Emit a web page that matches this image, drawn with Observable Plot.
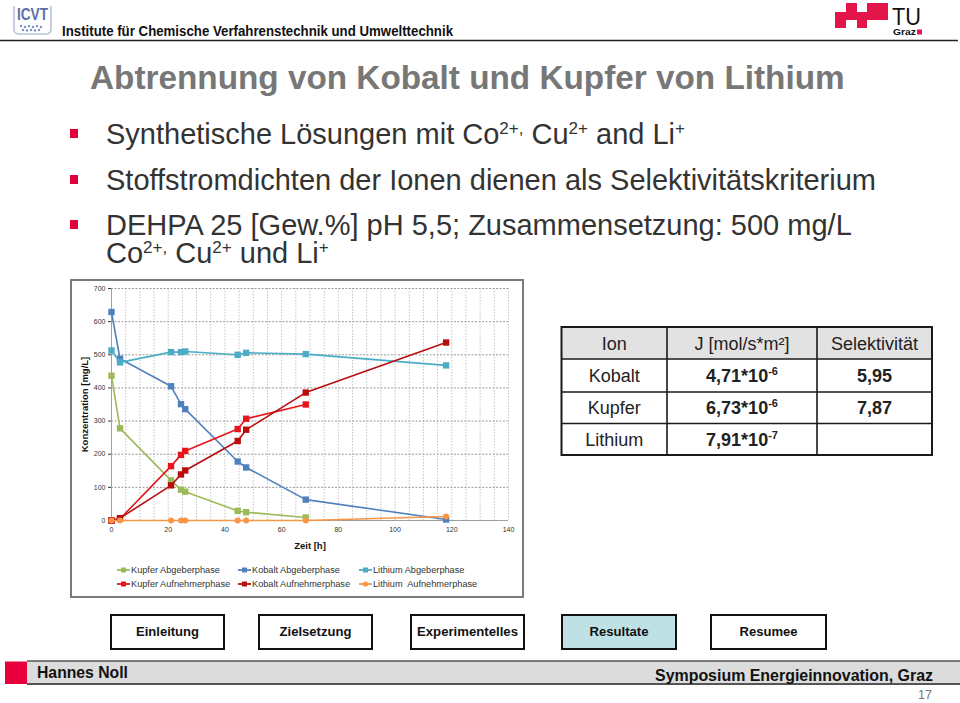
<!DOCTYPE html>
<html><head><meta charset="utf-8">
<script src="https://cdn.jsdelivr.net/npm/d3@7"></script>
<script src="https://cdn.jsdelivr.net/npm/@observablehq/plot@0.6"></script>
<style>
html,body{margin:0;padding:0;background:#fff;}
#slide{position:relative;width:960px;height:703px;overflow:hidden;font-family:"Liberation Sans",Arial,sans-serif;}
#deco{position:absolute;left:0;top:0;}
#chart{position:absolute;left:72px;top:281px;}
#legend{position:absolute;left:72px;top:560px;}
text{white-space:pre;}
</style></head>
<body><div id="slide">
<svg id="deco" width="960" height="703" font-family="Liberation Sans, Arial, sans-serif">
  <!-- ICVT logo -->
  <path d="M14,6 L14,30 Q14,34 20,34 L46,34 Q51,34 51,29 L51,6" fill="none" stroke="#b9c4da" stroke-width="1.6"/>
  <text x="17" y="20" font-size="16" font-weight="bold" fill="#5b70a6" textLength="31" lengthAdjust="spacingAndGlyphs">ICVT</text>
  <g fill="#7d92c2"><circle cx="21" cy="26" r="1.2"/><circle cx="25" cy="27" r="1.2"/><circle cx="29" cy="26" r="1.2"/><circle cx="33" cy="27" r="1.2"/><circle cx="37" cy="26" r="1.2"/><circle cx="41" cy="27" r="1.2"/><circle cx="23" cy="30" r="1.2"/><circle cx="27" cy="30.5" r="1.2"/><circle cx="31" cy="30" r="1.2"/><circle cx="35" cy="30.5" r="1.2"/><circle cx="39" cy="30" r="1.2"/></g>
  <text x="62" y="36" font-size="14" font-weight="bold" fill="#111" textLength="391" lengthAdjust="spacingAndGlyphs">Institute für Chemische Verfahrenstechnik und Umwelttechnik</text>
  <line x1="0" x2="958" y1="40.5" y2="40.5" stroke="#222" stroke-width="1.5"/>
  <!-- TU Graz logo -->
  <g fill="#e4154b">
    <rect x="846" y="3" width="11" height="9"/>
    <rect x="867" y="3" width="21" height="9"/>
    <rect x="835" y="12" width="53" height="8"/>
    <rect x="835" y="20" width="11" height="8"/>
    <rect x="857" y="20" width="10" height="8"/>
  </g>
  <text x="892" y="24.5" font-size="24" fill="#111" textLength="29" lengthAdjust="spacingAndGlyphs">TU</text>
  <text x="893" y="34.5" font-size="8.5" font-weight="bold" fill="#111" textLength="23" lengthAdjust="spacingAndGlyphs">Graz</text>
  <rect x="917" y="29.5" width="5" height="5" fill="#e4154b"/>
  <!-- title -->
  <text x="90" y="89" font-size="33.3" font-weight="bold" fill="#777">Abtrennung von Kobalt und Kupfer von Lithium</text>
  <!-- bullets -->
  <g fill="#e2003b">
    <rect x="70" y="129" width="8" height="9"/>
    <rect x="70" y="175" width="8" height="9"/>
    <rect x="70" y="220" width="8" height="9"/>
  </g>
  <g font-size="29" fill="#333">
    <text x="106" y="144">Synthetische Lösungen mit Co<tspan font-size="17" dy="-10">2+,</tspan><tspan dy="10"> Cu</tspan><tspan font-size="17" dy="-10">2+</tspan><tspan dy="10"> and Li</tspan><tspan font-size="17" dy="-10">+</tspan></text>
    <text x="106" y="190">Stoffstromdichten der Ionen dienen als Selektivitätskriterium</text>
    <text x="106" y="235">DEHPA 25 [Gew.%] pH 5,5; Zusammensetzung: 500 mg/L</text>
    <text x="106" y="263">Co<tspan font-size="17" dy="-10">2+,</tspan><tspan dy="10"> Cu</tspan><tspan font-size="17" dy="-10">2+</tspan><tspan dy="10"> und Li</tspan><tspan font-size="17" dy="-10">+</tspan></text>
  </g>
  <!-- chart frame -->
  <rect x="71" y="280" width="452" height="317" fill="none" stroke="#7a7a7a" stroke-width="2"/>
  <!-- table -->
  <g id="table"></g>
  <!-- nav buttons -->
  <g id="nav"></g>
  <!-- footer -->
  <rect x="27" y="661" width="933" height="22.5" fill="#dcdcdc"/>
  <line x1="27" x2="960" y1="661" y2="661" stroke="#555" stroke-width="1.5"/>
  <line x1="27" x2="960" y1="684" y2="684" stroke="#555" stroke-width="2"/>
  <rect x="5" y="661.5" width="22" height="22.5" fill="#e8003d"/>
  <text x="37" y="678" font-size="16" font-weight="bold" fill="#111" textLength="91" lengthAdjust="spacingAndGlyphs">Hannes Noll</text>
  <text x="933" y="681" font-size="16" font-weight="bold" fill="#111" text-anchor="end" textLength="278" lengthAdjust="spacingAndGlyphs">Symposium Energieinnovation, Graz</text>
  <text x="932" y="699" font-size="12.5" fill="#777" text-anchor="end">17</text>
</svg>
<div id="chart"></div>
<svg id="legend" width="450" height="34" font-family="Liberation Sans, Arial, sans-serif"></svg>
</div>
<script>
// ---- chart data ----
const zeit = [0, 3, 21, 24.5, 26, 44.5, 47.5, 68.5, 118];
const seriesNames = ["Kupfer Abgeberphase", "Kobalt Abgeberphase", "Lithium Abgeberphase",
                     "Kupfer Aufnehmerphase", "Kobalt Aufnehmerphase", "Lithium  Aufnehmerphase"];
const seriesColors = ["#9bbb59", "#4f81bd", "#4bacc6", "#e8161c", "#b80d0d", "#f79646"];
const kupferAbgeber   = [437, 278, 121, 93, 87, 29, 25, 9, null];
const kobaltAbgeber   = [629, 488, 405, 351, 336, 178, 160, 63, 3];
const lithiumAbgeber  = [513, 477, 508, 508, 510, 500, 506, 502, 468];
const kupferAufnehmer = [0, 5, 164, 198, 210, 276, 307, 350, null];
const kobaltAufnehmer = [0, 7, 106, 139, 151, 240, 274, 386, 537];
const lithiumAufnehmer= [0, 0, 0, 0, 0, 0, 0, 0, 12];
const xTicks = [0, 20, 40, 60, 80, 100, 120, 140];
const yTicks = [0, 100, 200, 300, 400, 500, 600, 700];

// ---- table data ----
const tableHeader = ["Ion", "J [mol/s*m²]", "Selektivität"];
const tableIon = ["Kobalt", "Kupfer", "Lithium"];
const tableJMant = ["4,71*10", "6,73*10", "7,91*10"];
const tableJExp = ["-6", "-6", "-7"];
const tableSel = ["5,95", "7,87", ""];

// ---- navigation ----
const navLabels = ["Einleitung", "Zielsetzung", "Experimentelles", "Resultate", "Resumee"];
const navActive = "Resultate";

const seriesValues = [kupferAbgeber, kobaltAbgeber, lithiumAbgeber, kupferAufnehmer, kobaltAufnehmer, lithiumAufnehmer];
const rows = [];
seriesNames.forEach((s, i) => zeit.forEach((t, j) => {
  const v = seriesValues[i][j];
  if (v != null) rows.push({series: s, zeit: t, konz: v});
}));

const seriesMarks = seriesNames.flatMap((s, i) => {
  const data = rows.filter(d => d.series === s);
  const circle = i === 5;
  return [
    Plot.line(data, {x: "zeit", y: "konz", stroke: "series", strokeWidth: 1.6}),
    Plot.dot(data, {x: "zeit", y: "konz", fill: "series", symbol: circle ? "circle" : "square", r: circle ? 3 : 3.6})
  ];
});

const chart = Plot.plot({
  width: 450, height: 275,
  marginLeft: 39, marginRight: 14, marginTop: 7, marginBottom: 36,
  style: {fontFamily: "Liberation Sans, Arial, sans-serif", color: "#333", background: "transparent"},
  x: {domain: [0, 140]},
  y: {domain: [0, 700]},
  color: {domain: seriesNames, range: seriesColors},
  marks: [
    Plot.gridX(d3.range(5, 141, 5), {stroke: "#c4c4c4", strokeOpacity: 1, strokeDasharray: "1.5,1.5"}),
    Plot.gridY(d3.range(100, 701, 100), {stroke: "#9a9a9a", strokeOpacity: 1, strokeDasharray: "2,1.5"}),
    Plot.axisX({ticks: xTicks, tickSize: 0, tickPadding: 7, fontSize: 7, label: "Zeit [h]", labelAnchor: "center", labelOffset: 28, labelArrow: "none"}),
    Plot.axisY({ticks: yTicks, tickSize: 3, tickPadding: 3, fontSize: 7, label: "Konzentration [mg/L]", labelAnchor: "center", labelOffset: 30, labelArrow: "none"}),
    Plot.ruleX([0], {stroke: "#a0a0a0"}),
    Plot.ruleY([0], {stroke: "#a0a0a0"}),
    ...seriesMarks
  ]
});
document.getElementById("chart").appendChild(chart);
chart.querySelectorAll('g[aria-label="x-axis label"], g[aria-label="y-axis label"]').forEach(g => {
  g.setAttribute("font-weight", "bold");
  g.setAttribute("font-size", "9.5");
  g.setAttribute("fill", "#111");
});

// ---- legend ----
const leg = d3.select("#legend");
const colX = [45, 166, 287], rowY = [10, 24];
seriesNames.forEach((s, i) => {
  const x = colX[i % 3], y = rowY[Math.floor(i / 3)];
  const g = leg.append("g");
  g.append("line").attr("x1", x).attr("x2", x + 13).attr("y1", y).attr("y2", y)
    .attr("stroke", seriesColors[i]).attr("stroke-width", 1.8);
  if (i === 5) g.append("circle").attr("cx", x + 6.5).attr("cy", y).attr("r", 2.6).attr("fill", seriesColors[i]);
  else g.append("rect").attr("x", x + 4).attr("y", y - 2.5).attr("width", 5).attr("height", 5).attr("fill", seriesColors[i]);
  g.append("text").attr("x", x + 14).attr("y", y).attr("dy", "0.35em")
    .attr("font-size", 9.2).attr("fill", "#333").text(s);
});

// ---- table ----
const tb = d3.select("#table");
const colEdges = [561.5, 667, 817, 932];
const rowEdges = [327, 359, 392, 423.5, 455];
tb.append("rect").attr("x", colEdges[0]).attr("y", rowEdges[0]).attr("width", colEdges[3] - colEdges[0])
  .attr("height", rowEdges[1] - rowEdges[0]).attr("fill", "#e2e2e2");
colEdges.slice(1, 3).forEach(x => tb.append("line").attr("x1", x).attr("x2", x).attr("y1", rowEdges[0]).attr("y2", rowEdges[4]).attr("stroke", "#1a1a1a").attr("stroke-width", 1.6));
rowEdges.slice(1, 4).forEach(y => tb.append("line").attr("x1", colEdges[0]).attr("x2", colEdges[3]).attr("y1", y).attr("y2", y).attr("stroke", "#1a1a1a").attr("stroke-width", 1.6));
tb.append("rect").attr("x", colEdges[0]).attr("y", rowEdges[0]).attr("width", colEdges[3] - colEdges[0])
  .attr("height", rowEdges[4] - rowEdges[0]).attr("fill", "none").attr("stroke", "#1a1a1a").attr("stroke-width", 2);
const colC = [0, 1, 2].map(i => (colEdges[i] + colEdges[i + 1]) / 2);
const rowBase = [0, 1, 2, 3].map(i => (rowEdges[i] + rowEdges[i + 1]) / 2 + 6.5);
tableHeader.forEach((h, i) => tb.append("text").attr("x", colC[i]).attr("y", rowBase[0]).attr("text-anchor", "middle")
  .attr("font-size", 18).attr("fill", "#222").text(h));
tableIon.forEach((ion, r) => {
  tb.append("text").attr("x", colC[0]).attr("y", rowBase[r + 1]).attr("text-anchor", "middle").attr("font-size", 18).attr("fill", "#222").text(ion);
  const t = tb.append("text").attr("x", colC[1]).attr("y", rowBase[r + 1]).attr("text-anchor", "middle").attr("font-size", 18).attr("font-weight", "bold").attr("fill", "#222");
  t.append("tspan").text(tableJMant[r]);
  t.append("tspan").attr("font-size", 11).attr("dy", -7).text(tableJExp[r]);
  if (tableSel[r]) tb.append("text").attr("x", colC[2]).attr("y", rowBase[r + 1]).attr("text-anchor", "middle").attr("font-size", 18).attr("font-weight", "bold").attr("fill", "#222").text(tableSel[r]);
});

// ---- nav buttons ----
const nav = d3.select("#nav");
const navX = [111, 259, 411, 562, 711], navW = [113, 113, 113, 114, 115], navTL = [63, 72, 101, 59, 58];
navLabels.forEach((l, i) => {
  nav.append("rect").attr("x", navX[i]).attr("y", 615).attr("width", navW[i]).attr("height", 34)
    .attr("fill", l === navActive ? "#bfe0e4" : "#fff").attr("stroke", "#111").attr("stroke-width", 2);
  nav.append("text").attr("x", navX[i] + navW[i] / 2).attr("y", 636).attr("text-anchor", "middle")
    .attr("font-size", 13).attr("font-weight", "bold").attr("fill", "#111")
    .attr("textLength", navTL[i]).attr("lengthAdjust", "spacingAndGlyphs").text(l);
});
</script>
</body></html>
